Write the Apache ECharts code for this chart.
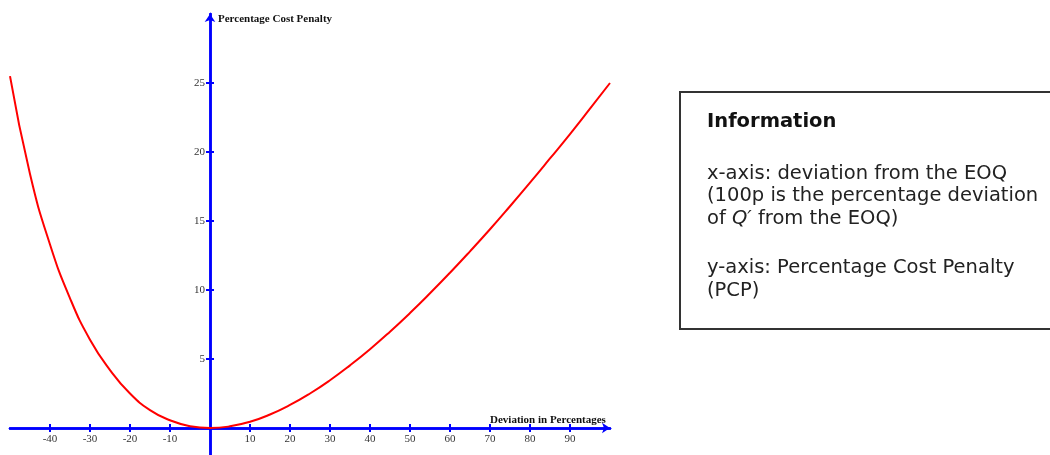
<!DOCTYPE html>
<html><head><meta charset="utf-8">
<script src="https://cdn.jsdelivr.net/npm/echarts@6/dist/echarts.min.js"></script>
<style>html,body{margin:0;padding:0;background:#fff;overflow:hidden}#c{width:1050px;height:455px}</style>
</head><body><div id="c"></div>
<script>
// ---- data ----
const deviation = [-50,-45,-40,-35,-30,-25,-20,-15,-10,-5,0,5,10,15,20,25,30,35,40,45,50,55,60,65,70,75,80,85,90,95,100];
const pcp = [25.5,18.4,13.3,9.4,6.4,4.2,2.5,1.3,0.56,0.13,0,0.12,0.45,0.98,1.67,2.5,3.46,4.54,5.71,6.98,8.33,9.76,11.25,12.8,14.4,16.07,17.78,19.53,21.3,23.14,25];
const xTicks = [-40,-30,-20,-10,10,20,30,40,50,60,70,80,90];
const yTicks = [5,10,15,20,25];
const xTitle = 'Deviation in Percentages';
const yTitle = 'Percentage Cost Penalty';
const infoTitle = 'Information';
const infoBlock1 = ['x-axis: deviation from the EOQ', '(100p is the percentage deviation', 'of {i|Q′} from the EOQ)'];
const infoBlock2 = ['y-axis: Percentage Cost Penalty', '(PCP)'];

const X_MIN = -50, X_MAX = 100, Y_MIN = -2, Y_MAX = 30;
const GRID = { left: 10, width: 600, top: 14, height: 441.6 };
const BLUE = '#0000ff';
const labelFont = { fontFamily: '"Liberation Serif", serif', fontSize: 11, color: '#333' };
// offsets that place the axes at the data origin (layout only)
const yOffset = -GRID.width * (0 - X_MIN) / (X_MAX - X_MIN);
const xOffset = -GRID.height * (0 - Y_MIN) / (Y_MAX - Y_MIN);

function xAx(inside) {
  return {
    type: 'value', min: X_MIN, max: X_MAX, position: 'bottom', offset: xOffset,
    splitLine: { show: false },
    axisLine: { show: true, onZero: false, lineStyle: { color: BLUE, width: 2.5 },
      symbol: inside ? 'none' : ['none', 'arrow'], symbolSize: [8, 8] },
    axisTick: { show: true, inside: inside, length: 4, customValues: xTicks, lineStyle: { color: BLUE, width: 2 } },
    axisLabel: Object.assign({ show: !inside, margin: 6, customValues: xTicks }, labelFont)
  };
}
function yAx(inside) {
  return {
    type: 'value', min: Y_MIN, max: Y_MAX, position: 'left', offset: yOffset,
    splitLine: { show: false },
    axisLine: { show: true, onZero: false, lineStyle: { color: BLUE, width: 2.5 },
      symbol: inside ? 'none' : ['none', 'arrow'], symbolSize: [8, 8] },
    axisTick: { show: true, inside: inside, length: 4, customValues: yTicks, lineStyle: { color: BLUE, width: 2 } },
    axisLabel: Object.assign({ show: !inside, margin: 5, customValues: yTicks }, labelFont)
  };
}

const infoFont = '"DejaVu Sans", sans-serif';
const chart = echarts.init(document.getElementById('c'), null, { renderer: 'canvas' });
chart.setOption({
  backgroundColor: '#fff',
  animation: false,
  grid: Object.assign({ outerBoundsMode: 'none', containLabel: false }, GRID),
  xAxis: [xAx(false), xAx(true)],
  yAxis: [yAx(false), yAx(true)],
  series: [{
    type: 'line', xAxisIndex: 0, yAxisIndex: 0,
    data: deviation.map((d, i) => [d, pcp[i]]),
    smooth: true, showSymbol: false, silent: true,
    lineStyle: { color: '#ff0000', width: 2 }
  }],
  graphic: [
    { type: 'text', left: 218, top: 14, style: { text: yTitle, fontFamily: '"Liberation Serif", serif', fontWeight: 'bold', fontSize: 11, fill: '#111' } },
    { type: 'text', left: 490, top: 415, style: { text: xTitle, fontFamily: '"Liberation Serif", serif', fontWeight: 'bold', fontSize: 11, fill: '#111' } },
    { type: 'rect', shape: { x: 680, y: 92, width: 400, height: 237 }, style: { fill: '#fff', stroke: '#333', lineWidth: 2 } },
    { type: 'text', left: 707, top: 112, style: { text: infoTitle, fontFamily: infoFont, fontWeight: 'bold', fontSize: 19.5, lineHeight: 20, fill: '#111' } },
    { type: 'text', left: 707, top: 162.5, style: {
        text: infoBlock1.join('\n'), fontFamily: infoFont, fontSize: 19.5, lineHeight: 22.5, fill: '#222',
        rich: { i: { fontStyle: 'italic', fontFamily: infoFont, fontSize: 19.5, lineHeight: 22.5, fill: '#222' } } } },
    { type: 'text', left: 707, top: 257, style: {
        text: infoBlock2.join('\n'), fontFamily: infoFont, fontSize: 19.5, lineHeight: 22.5, fill: '#222' } }
  ]
});
</script></body></html>
